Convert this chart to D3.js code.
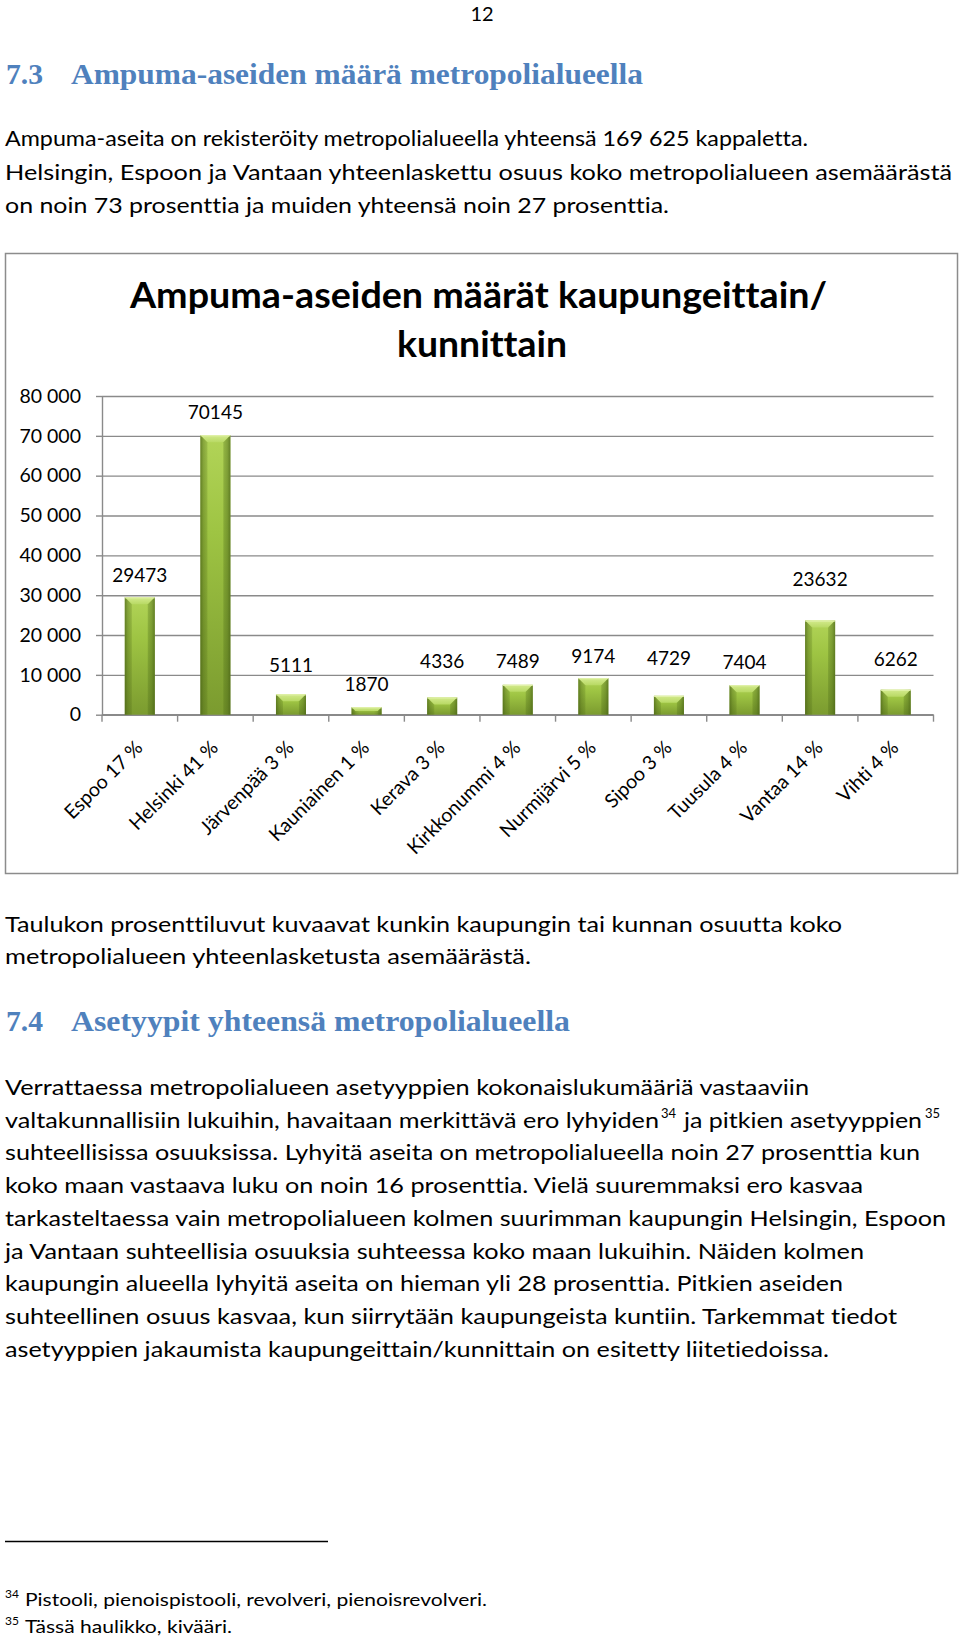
<!DOCTYPE html>
<html><head><meta charset="utf-8">
<script src="https://cdn.jsdelivr.net/npm/d3@7"></script>
<style>
html,body{margin:0;padding:0;background:#fff;}
svg{display:block;}
text{font-variant-ligatures:none;font-feature-settings:"liga" 0;}
</style></head><body>
<svg id="page" width="960" height="1639"></svg>
<script>
// ---------- data ----------
const categories = ["Espoo 17 %","Helsinki 41 %","Järvenpää 3 %","Kauniainen 1 %","Kerava 3 %","Kirkkonummi 4 %","Nurmijärvi 5 %","Sipoo 3 %","Tuusula 4 %","Vantaa 14 %","Vihti 4 %"];
const values = [29473,70145,5111,1870,4336,7489,9174,4729,7404,23632,6262];
const yTickValues = [0,10000,20000,30000,40000,50000,60000,70000,80000];
const chartTitle = ["Ampuma-aseiden määrät kaupungeittain/","kunnittain"];

const pageNumber = "12";
const heading1 = ["7.3","Ampuma-aseiden määrä metropolialueella"];
const heading2 = ["7.4","Asetyypit yhteensä metropolialueella"];
const para1 = [
  "Ampuma-aseita on rekisteröity metropolialueella yhteensä 169 625 kappaletta.",
  "Helsingin, Espoon ja Vantaan yhteenlaskettu osuus koko metropolialueen asemäärästä",
  "on noin 73 prosenttia ja muiden yhteensä noin 27 prosenttia."
];
const caption = [
  "Taulukon prosenttiluvut kuvaavat kunkin kaupungin tai kunnan osuutta koko",
  "metropolialueen yhteenlasketusta asemäärästä."
];
const para2 = [
  "Verrattaessa metropolialueen asetyyppien kokonaislukumääriä vastaaviin",
  ["valtakunnallisiin lukuihin, havaitaan merkittävä ero lyhyiden","34","ja pitkien asetyyppien","35"],
  "suhteellisissa osuuksissa. Lyhyitä aseita on metropolialueella noin 27 prosenttia kun",
  "koko maan vastaava luku on noin 16 prosenttia. Vielä suuremmaksi ero kasvaa",
  "tarkasteltaessa vain metropolialueen kolmen suurimman kaupungin Helsingin, Espoon",
  "ja Vantaan suhteellisia osuuksia suhteessa koko maan lukuihin. Näiden kolmen",
  "kaupungin alueella lyhyitä aseita on hieman yli 28 prosenttia. Pitkien aseiden",
  "suhteellinen osuus kasvaa, kun siirrytään kaupungeista kuntiin. Tarkemmat tiedot",
  "asetyyppien jakaumista kaupungeittain/kunnittain on esitetty liitetiedoissa."
];
const footnotes = [
  ["34","Pistooli, pienoispistooli, revolveri, pienoisrevolveri."],
  ["35","Tässä haulikko, kivääri."]
];

// ---------- layout (not data) ----------
const FONT = "Lato, 'Open Sans', sans-serif";
const SERIF = "'Liberation Serif','DejaVu Serif',serif";
const HEAD_COLOR = "#4f81bd";
const para1Ends = [808, 952, 669];
const captionEnds = [842, 531];
const para2Ends = [809, null, 920, 863, 946, 864, 843, 897, 829];
const labelGap = [22, 23, 29, 23, 36, 23, 22, 37, 23, 41, 30]; // px between label centre and bar top

const svg = d3.select("#page");
svg.append("rect").attr("width",960).attr("height",1639).attr("fill","#fff");

function fit(sel, x0, x1){
  sel.attr("x", x0).attr("textLength", x1 - x0).attr("lengthAdjust","spacingAndGlyphs");
  return sel;
}
function bodyLine(txt, x0, x1, y, size){
  const t = svg.append("text").attr("y", y).attr("font-family", FONT)
    .attr("font-size", size).attr("fill","#000").text(txt);
  if (x1) fit(t, x0, x1); else t.attr("x", x0);
  return t;
}

// page number
svg.append("text").attr("x",482).attr("y",21).attr("text-anchor","middle")
  .attr("font-family",FONT).attr("font-size",20).text(pageNumber);

// headings
function heading(h, y, numEnd, txtStart, txtEnd){
  svg.append("text").attr("y",y).attr("font-family",SERIF).attr("font-weight","bold")
    .attr("font-size",28.5).attr("fill",HEAD_COLOR).call(s=>fit(s,6,numEnd)).text(h[0]);
  svg.append("text").attr("y",y).attr("font-family",SERIF).attr("font-weight","bold")
    .attr("font-size",28.5).attr("fill",HEAD_COLOR).call(s=>fit(s,txtStart,txtEnd)).text(h[1]);
}
heading(heading1, 84, 43, 71, 643);

para1.forEach((l,i)=> bodyLine(l, 5, para1Ends[i], 146 + i*33.5, 20.5));

// ---------- chart ----------
svg.append("rect").attr("x",5.5).attr("y",253.5).attr("width",952).attr("height",620)
  .attr("fill","#fff").attr("stroke","#8c8c8c").attr("stroke-width",1.5);

const titleG = svg.append("g").attr("font-family",FONT).attr("font-weight","bold")
  .attr("font-size",36).attr("fill","#000");
titleG.append("text").attr("y",308).call(s=>fit(s,130,827)).text(chartTitle[0]);
titleG.append("text").attr("y",357).call(s=>fit(s,397,567)).text(chartTitle[1]);

const x = d3.scaleBand().domain(categories).range([102, 933.5]).padding(0);
const y = d3.scaleLinear().domain([0, 80000]).range([714.7, 396]);
const fmt = d3.formatLocale({decimal:",", thousands:"\u00a0", grouping:[3], currency:["","€"]}).format(",d");

const defs = svg.append("defs");
const gBody = defs.append("linearGradient").attr("id","barBody").attr("x1",0).attr("y1",0).attr("x2",0).attr("y2",1);
[["0%","#b2d458"],["35%","#9ec443"],["100%","#7b9b2f"]].forEach(s=>gBody.append("stop").attr("offset",s[0]).attr("stop-color",s[1]));
const gEdge = defs.append("linearGradient").attr("id","barEdge").attr("x1",0).attr("y1",0).attr("x2",1).attr("y2",0);
[["0%",0.6],["10%",0.25],["25%",0],["75%",0],["90%",0.25],["100%",0.6]].forEach(s=>gEdge.append("stop").attr("offset",s[0]).attr("stop-color","#3d5410").attr("stop-opacity",s[1]));
const gTop = defs.append("linearGradient").attr("id","barTop").attr("x1",0).attr("y1",0).attr("x2",0).attr("y2",1);
[["0%","#d3ea8d"],["100%","#b8d964"]].forEach(s=>gTop.append("stop").attr("offset",s[0]).attr("stop-color",s[1]));

// gridlines
const grid = svg.append("g").attr("transform",`translate(102,0)`)
  .call(d3.axisLeft(y).tickValues(yTickValues).tickSize(-(933.5-102)).tickFormat(""));
grid.selectAll("line").attr("stroke","#8a8a8a").attr("stroke-width",1.4);
grid.select(".domain").remove();

// y axis with labels
const yAx = svg.append("g").attr("transform",`translate(102,0)`)
  .call(d3.axisLeft(y).tickValues(yTickValues).tickSizeInner(6).tickSizeOuter(0).tickPadding(15).tickFormat(fmt));
yAx.select(".domain").attr("stroke","#8a8a8a").attr("stroke-width",1.4);
yAx.selectAll(".tick line").attr("stroke","#8a8a8a").attr("stroke-width",1.4);
yAx.selectAll("text").attr("font-family",FONT).attr("font-size",19.5).attr("fill","#000");

// x axis line + boundary ticks
const xr = x.range();
svg.append("line").attr("x1",xr[0]).attr("x2",xr[1]).attr("y1",y(0)).attr("y2",y(0))
  .attr("stroke","#8a8a8a").attr("stroke-width",1.4);
const bounds = categories.map(c=>x(c)).concat([xr[1]]);
svg.append("g").selectAll("line").data(bounds).join("line")
  .attr("x1",d=>d).attr("x2",d=>d).attr("y1",y(0)).attr("y2",y(0)+7)
  .attr("stroke","#8a8a8a").attr("stroke-width",1.4);

// bars
const bw = x.bandwidth()*0.397;
const bars = svg.append("g").selectAll("g").data(categories.map((c,i)=>({c, v:values[i], i}))).join("g");
bars.each(function(d){
  const g = d3.select(this);
  const x0 = x(d.c) + (x.bandwidth()-bw)/2, top = y(d.v), h = y(0) - y(d.v);
  g.append("rect").attr("x",x0).attr("y",top).attr("width",bw).attr("height",h).attr("fill","url(#barBody)");
  g.append("rect").attr("x",x0).attr("y",top).attr("width",bw).attr("height",h).attr("fill","url(#barEdge)");
  const b = Math.min(7, h*0.5);
  g.append("polygon").attr("points",[[x0,top],[x0+bw,top],[x0+bw-b,top+b],[x0+b,top+b]].map(p=>p.join(",")).join(" "))
    .attr("fill","url(#barTop)");
  g.append("polygon").attr("points",[[x0,top],[x0+b,top+b],[x0+b,top+h],[x0,top+h]].map(p=>p.join(",")).join(" "))
    .attr("fill","#4d6a16").attr("fill-opacity",0.18);
  g.append("polygon").attr("points",[[x0+bw,top],[x0+bw-b,top+b],[x0+bw-b,top+h],[x0+bw,top+h]].map(p=>p.join(",")).join(" "))
    .attr("fill","#4d6a16").attr("fill-opacity",0.25);
  g.append("line").attr("x1",x0).attr("x2",x0+bw).attr("y1",top+0.5).attr("y2",top+0.5)
    .attr("stroke","#e4f3b0").attr("stroke-width",1);
});

// data labels
svg.append("g").selectAll("text").data(categories.map((c,i)=>({c, v:values[i], i}))).join("text")
  .attr("x",d=>x(d.c)+x.bandwidth()/2)
  .attr("y",d=>y(d.v) - labelGap[d.i] + 6.5)
  .attr("text-anchor","middle").attr("font-family",FONT).attr("font-size",19).attr("fill","#000")
  .text(d=>d.v);

// x labels (rotated)
svg.append("g").selectAll("text").data(categories).join("text")
  .attr("transform",d=>`translate(${x(d)+x.bandwidth()/2+4},749) rotate(-45)`)
  .attr("text-anchor","end").attr("font-family",FONT).attr("font-size",19.5).attr("fill","#000")
  .text(d=>d);

// ---------- text below chart ----------
caption.forEach((l,i)=> bodyLine(l, 5, captionEnds[i], 931.5 + i*32.5, 20.5));
heading(heading2, 1031, 43, 71, 570);

para2.forEach((l,i)=>{
  const yy = 1095 + i*32.7;
  if (Array.isArray(l)){
    bodyLine(l[0], 5, 659, yy, 20.5);
    svg.append("text").attr("x",661).attr("y",yy-10).attr("font-family",FONT).attr("font-size",13).text(l[1]);
    bodyLine(l[2], 684, 922, yy, 20.5);
    svg.append("text").attr("x",925).attr("y",yy-10).attr("font-family",FONT).attr("font-size",13).text(l[3]);
  } else {
    bodyLine(l, 5, para2Ends[i], yy, 20.5);
  }
});

// footnote rule + footnotes
svg.append("line").attr("x1",5).attr("x2",328).attr("y1",1541.5).attr("y2",1541.5)
  .attr("stroke","#000").attr("stroke-width",1.5);
const fnEnds = [487, 232];
footnotes.forEach((f,i)=>{
  const yy = 1606 + i*27;
  svg.append("text").attr("x",5).attr("y",yy-8).attr("font-family",FONT).attr("font-size",12).text(f[0]);
  bodyLine(f[1], 25, fnEnds[i], yy, 18);
});
</script>
</body></html>
